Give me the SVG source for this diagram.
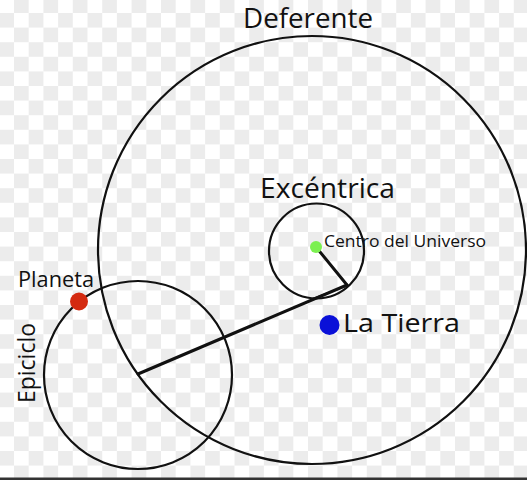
<svg xmlns="http://www.w3.org/2000/svg" width="527" height="480" viewBox="0 0 527 480">
  <defs>
    <pattern id="checker" patternUnits="userSpaceOnUse" x="-0.7" y="-1.6" width="29.4" height="29.2">
      <rect x="14.7" y="0" width="14.7" height="14.6" fill="#ececec"/>
      <rect x="0" y="14.6" width="14.7" height="14.6" fill="#ececec"/>
    </pattern>
    <style>
      .orbit { fill: none; stroke: #111; stroke-width: 2.2; }
      .arm { stroke: #111; stroke-width: 3; stroke-linecap: round; }
      .lbl { font-family: "Comic Sans MS", "Open Sans", sans-serif; fill: #111; }
    </style>
  </defs>
  <rect x="0" y="0" width="527" height="480" fill="#ffffff"/>
  <rect x="0" y="0" width="527" height="480" fill="url(#checker)"/>
  <rect x="0" y="477.5" width="527" height="2.5" fill="#333"/>

  <g id="connectors">
    <line class="arm" x1="138" y1="374" x2="347" y2="285"/>
    <line class="arm" x1="316" y1="247" x2="347" y2="285"/>
    <line stroke="#111" stroke-width="1.5" x1="312" y1="299" x2="346" y2="286"/>
  </g>

  <g id="deferente">
    <circle class="orbit" cx="312" cy="250" r="214"/>
    <text class="lbl" x="243" y="28" font-size="27" textLength="130" lengthAdjust="spacingAndGlyphs">Deferente</text>
  </g>

  <g id="excentrica">
    <circle class="orbit" cx="316.5" cy="251" r="47.5"/>
    <text class="lbl" x="260" y="198" font-size="28" textLength="135" lengthAdjust="spacingAndGlyphs">Excéntrica</text>
  </g>

  <g id="centro-universo">
    <circle cx="316" cy="247" r="6" fill="#7cf050"/>
    <text class="lbl" x="324" y="247" font-size="16.5" textLength="162" lengthAdjust="spacingAndGlyphs">Centro del Universo</text>
  </g>

  <g id="epiciclo">
    <circle class="orbit" cx="138" cy="375" r="94"/>
    <text class="lbl" transform="translate(35 403) rotate(-90)" x="0" y="0" font-size="23" textLength="80" lengthAdjust="spacingAndGlyphs">Epiciclo</text>
  </g>

  <g id="planeta">
    <circle cx="79" cy="301.5" r="9" fill="#d42a10"/>
    <text class="lbl" x="18" y="287" font-size="21" textLength="76" lengthAdjust="spacingAndGlyphs">Planeta</text>
  </g>

  <g id="la-tierra">
    <circle cx="329.5" cy="325" r="10" fill="#0a10d8"/>
    <text class="lbl" x="343" y="332" font-size="26" textLength="117" lengthAdjust="spacingAndGlyphs">La Tierra</text>
  </g>
</svg>
